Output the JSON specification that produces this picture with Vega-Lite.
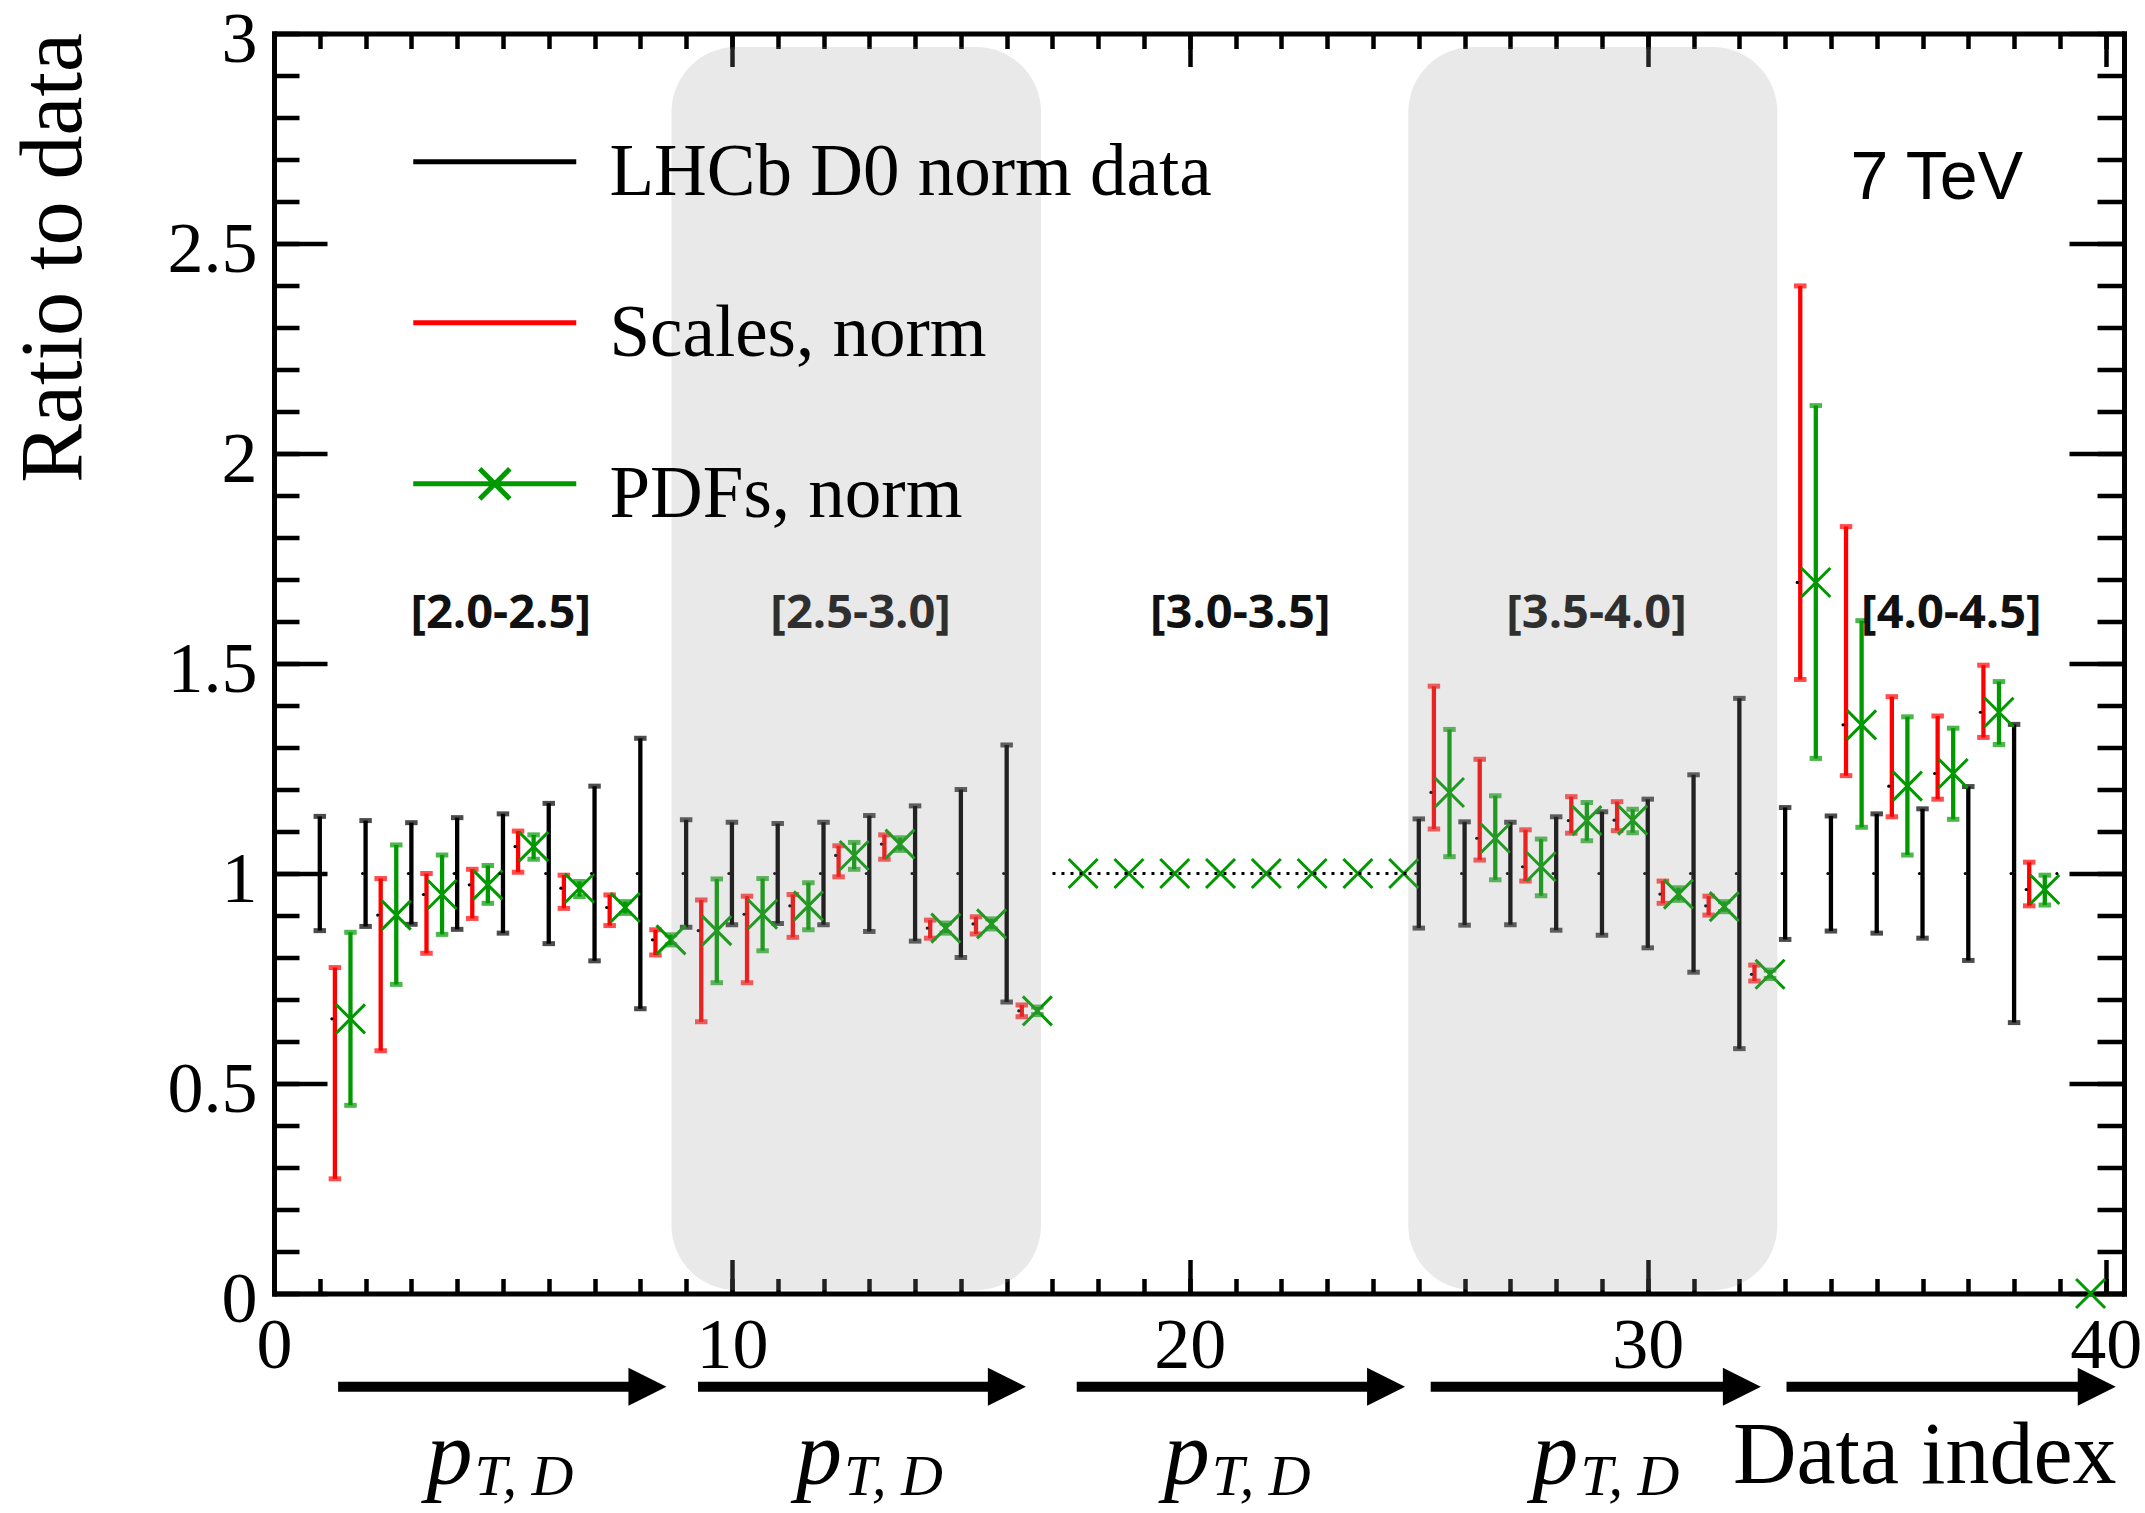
{
  "$schema": "https://vega.github.io/schema/vega-lite/v6.json",
  "width": 1850,
  "height": 1260,
  "autosize": {"type": "none"},
  "padding": {"left": 274, "top": 33.5, "right": 21, "bottom": 219.5},
  "background": "white",
  "config": {
    "view": {"stroke": null},
    "axis": {
      "zindex": 1, "grid": false, "labelFlush": false, "labelOverlap": false,
      "domain": false, "labels": false, "ticks": true, "title": null,
      "domainColor": "black", "domainWidth": 5, "domainCap": "square",
      "tickColor": "black", "tickWidth": 4.5,
      "labelFont": "Liberation Serif", "labelFontSize": 72, "labelColor": "black",
      "titleFont": "Liberation Serif", "titleFontSize": 88, "titleFontWeight": "normal", "titleColor": "black"
    }
  },
  "datasets": {
    "bars": [
      {"s": "LHCb D0 norm data", "x": 1, "v": 1, "lo": 0.864, "hi": 1.136},
      {"s": "LHCb D0 norm data", "x": 2, "v": 1, "lo": 0.874, "hi": 1.126},
      {"s": "LHCb D0 norm data", "x": 3, "v": 1, "lo": 0.879, "hi": 1.121},
      {"s": "LHCb D0 norm data", "x": 4, "v": 1, "lo": 0.867, "hi": 1.133},
      {"s": "LHCb D0 norm data", "x": 5, "v": 1, "lo": 0.858, "hi": 1.142},
      {"s": "LHCb D0 norm data", "x": 6, "v": 1, "lo": 0.833, "hi": 1.167},
      {"s": "LHCb D0 norm data", "x": 7, "v": 1, "lo": 0.792, "hi": 1.208},
      {"s": "LHCb D0 norm data", "x": 8, "v": 1, "lo": 0.678, "hi": 1.322},
      {"s": "LHCb D0 norm data", "x": 9, "v": 1, "lo": 0.872, "hi": 1.128},
      {"s": "LHCb D0 norm data", "x": 10, "v": 1, "lo": 0.878, "hi": 1.122},
      {"s": "LHCb D0 norm data", "x": 11, "v": 1, "lo": 0.881, "hi": 1.119},
      {"s": "LHCb D0 norm data", "x": 12, "v": 1, "lo": 0.878, "hi": 1.122},
      {"s": "LHCb D0 norm data", "x": 13, "v": 1, "lo": 0.862, "hi": 1.138},
      {"s": "LHCb D0 norm data", "x": 14, "v": 1, "lo": 0.839, "hi": 1.161},
      {"s": "LHCb D0 norm data", "x": 15, "v": 1, "lo": 0.800, "hi": 1.200},
      {"s": "LHCb D0 norm data", "x": 16, "v": 1, "lo": 0.694, "hi": 1.306},
      {"s": "LHCb D0 norm data", "x": 25, "v": 1, "lo": 0.870, "hi": 1.130},
      {"s": "LHCb D0 norm data", "x": 26, "v": 1, "lo": 0.877, "hi": 1.123},
      {"s": "LHCb D0 norm data", "x": 27, "v": 1, "lo": 0.878, "hi": 1.122},
      {"s": "LHCb D0 norm data", "x": 28, "v": 1, "lo": 0.865, "hi": 1.135},
      {"s": "LHCb D0 norm data", "x": 29, "v": 1, "lo": 0.853, "hi": 1.147},
      {"s": "LHCb D0 norm data", "x": 30, "v": 1, "lo": 0.823, "hi": 1.177},
      {"s": "LHCb D0 norm data", "x": 31, "v": 1, "lo": 0.765, "hi": 1.235},
      {"s": "LHCb D0 norm data", "x": 32, "v": 1, "lo": 0.583, "hi": 1.417},
      {"s": "LHCb D0 norm data", "x": 33, "v": 1, "lo": 0.843, "hi": 1.157},
      {"s": "LHCb D0 norm data", "x": 34, "v": 1, "lo": 0.863, "hi": 1.137},
      {"s": "LHCb D0 norm data", "x": 35, "v": 1, "lo": 0.858, "hi": 1.142},
      {"s": "LHCb D0 norm data", "x": 36, "v": 1, "lo": 0.846, "hi": 1.154},
      {"s": "LHCb D0 norm data", "x": 37, "v": 1, "lo": 0.793, "hi": 1.207},
      {"s": "LHCb D0 norm data", "x": 38, "v": 1, "lo": 0.645, "hi": 1.355},
      {"s": "LHCb D0 norm data", "x": 39, "v": 1, "lo": null, "hi": null},
      {"s": "Scales, norm", "x": 1.33, "v": 0.654, "lo": 0.273, "hi": 0.776},
      {"s": "Scales, norm", "x": 2.33, "v": 0.901, "lo": 0.578, "hi": 0.988},
      {"s": "Scales, norm", "x": 3.33, "v": 0.950, "lo": 0.810, "hi": 1.000},
      {"s": "Scales, norm", "x": 4.33, "v": 0.973, "lo": 0.893, "hi": 1.010},
      {"s": "Scales, norm", "x": 5.33, "v": 1.064, "lo": 1.003, "hi": 1.101},
      {"s": "Scales, norm", "x": 6.33, "v": 0.965, "lo": 0.917, "hi": 0.996},
      {"s": "Scales, norm", "x": 7.33, "v": 0.919, "lo": 0.876, "hi": 0.949},
      {"s": "Scales, norm", "x": 8.33, "v": 0.842, "lo": 0.806, "hi": 0.866},
      {"s": "Scales, norm", "x": 9.33, "v": 0.864, "lo": 0.647, "hi": 0.937},
      {"s": "Scales, norm", "x": 10.33, "v": 0.903, "lo": 0.740, "hi": 0.946},
      {"s": "Scales, norm", "x": 11.33, "v": 0.923, "lo": 0.848, "hi": 0.950},
      {"s": "Scales, norm", "x": 12.33, "v": 1.043, "lo": 0.992, "hi": 1.066},
      {"s": "Scales, norm", "x": 13.33, "v": 1.070, "lo": 1.034, "hi": 1.092},
      {"s": "Scales, norm", "x": 14.33, "v": 0.870, "lo": 0.846, "hi": 0.889},
      {"s": "Scales, norm", "x": 15.33, "v": 0.880, "lo": 0.856, "hi": 0.897},
      {"s": "Scales, norm", "x": 16.33, "v": 0.673, "lo": 0.659, "hi": 0.687},
      {"s": "Scales, norm", "x": 25.33, "v": 1.193, "lo": 1.106, "hi": 1.446},
      {"s": "Scales, norm", "x": 26.33, "v": 1.084, "lo": 1.032, "hi": 1.272},
      {"s": "Scales, norm", "x": 27.33, "v": 1.016, "lo": 0.982, "hi": 1.104},
      {"s": "Scales, norm", "x": 28.33, "v": 1.126, "lo": 1.096, "hi": 1.183},
      {"s": "Scales, norm", "x": 29.33, "v": 1.127, "lo": 1.102, "hi": 1.171},
      {"s": "Scales, norm", "x": 30.33, "v": 0.951, "lo": 0.929, "hi": 0.982},
      {"s": "Scales, norm", "x": 31.33, "v": 0.923, "lo": 0.901, "hi": 0.946},
      {"s": "Scales, norm", "x": 32.33, "v": 0.760, "lo": 0.744, "hi": 0.782},
      {"s": "Scales, norm", "x": 33.33, "v": 1.693, "lo": 1.462, "hi": 2.399},
      {"s": "Scales, norm", "x": 34.33, "v": 1.354, "lo": 1.233, "hi": 1.826},
      {"s": "Scales, norm", "x": 35.33, "v": 1.208, "lo": 1.135, "hi": 1.421},
      {"s": "Scales, norm", "x": 36.33, "v": 1.238, "lo": 1.177, "hi": 1.375},
      {"s": "Scales, norm", "x": 37.33, "v": 1.384, "lo": 1.324, "hi": 1.496},
      {"s": "Scales, norm", "x": 38.33, "v": 0.962, "lo": 0.923, "hi": 1.027},
      {"s": "PDFs, norm", "x": 1.67, "v": 0.654, "lo": 0.448, "hi": 0.860},
      {"s": "PDFs, norm", "x": 2.67, "v": 0.901, "lo": 0.736, "hi": 1.068},
      {"s": "PDFs, norm", "x": 3.67, "v": 0.950, "lo": 0.855, "hi": 1.044},
      {"s": "PDFs, norm", "x": 4.67, "v": 0.973, "lo": 0.929, "hi": 1.019},
      {"s": "PDFs, norm", "x": 5.67, "v": 1.064, "lo": 1.034, "hi": 1.092},
      {"s": "PDFs, norm", "x": 6.67, "v": 0.965, "lo": 0.945, "hi": 0.981},
      {"s": "PDFs, norm", "x": 7.67, "v": 0.919, "lo": 0.905, "hi": 0.933},
      {"s": "PDFs, norm", "x": 8.67, "v": 0.842, "lo": 0.830, "hi": 0.854},
      {"s": "PDFs, norm", "x": 9.67, "v": 0.864, "lo": 0.740, "hi": 0.987},
      {"s": "PDFs, norm", "x": 10.67, "v": 0.903, "lo": 0.816, "hi": 0.988},
      {"s": "PDFs, norm", "x": 11.67, "v": 0.923, "lo": 0.866, "hi": 0.978},
      {"s": "PDFs, norm", "x": 12.67, "v": 1.043, "lo": 1.010, "hi": 1.074},
      {"s": "PDFs, norm", "x": 13.67, "v": 1.070, "lo": 1.055, "hi": 1.085},
      {"s": "PDFs, norm", "x": 14.67, "v": 0.870, "lo": 0.858, "hi": 0.882},
      {"s": "PDFs, norm", "x": 15.67, "v": 0.880, "lo": 0.868, "hi": 0.892},
      {"s": "PDFs, norm", "x": 16.67, "v": 0.673, "lo": 0.664, "hi": 0.682},
      {"s": "PDFs, norm", "x": 17.67, "v": 1, "lo": null, "hi": null},
      {"s": "PDFs, norm", "x": 18.67, "v": 1, "lo": null, "hi": null},
      {"s": "PDFs, norm", "x": 19.67, "v": 1, "lo": null, "hi": null},
      {"s": "PDFs, norm", "x": 20.67, "v": 1, "lo": null, "hi": null},
      {"s": "PDFs, norm", "x": 21.67, "v": 1, "lo": null, "hi": null},
      {"s": "PDFs, norm", "x": 22.67, "v": 1, "lo": null, "hi": null},
      {"s": "PDFs, norm", "x": 23.67, "v": 1, "lo": null, "hi": null},
      {"s": "PDFs, norm", "x": 24.67, "v": 1, "lo": null, "hi": null},
      {"s": "PDFs, norm", "x": 25.67, "v": 1.193, "lo": 1.040, "hi": 1.343},
      {"s": "PDFs, norm", "x": 26.67, "v": 1.084, "lo": 0.985, "hi": 1.185},
      {"s": "PDFs, norm", "x": 27.67, "v": 1.016, "lo": 0.947, "hi": 1.082},
      {"s": "PDFs, norm", "x": 28.67, "v": 1.126, "lo": 1.078, "hi": 1.169},
      {"s": "PDFs, norm", "x": 29.67, "v": 1.127, "lo": 1.097, "hi": 1.153},
      {"s": "PDFs, norm", "x": 30.67, "v": 0.951, "lo": 0.936, "hi": 0.966},
      {"s": "PDFs, norm", "x": 31.67, "v": 0.921, "lo": 0.909, "hi": 0.933},
      {"s": "PDFs, norm", "x": 32.67, "v": 0.760, "lo": 0.750, "hi": 0.770},
      {"s": "PDFs, norm", "x": 33.67, "v": 1.693, "lo": 1.274, "hi": 2.114},
      {"s": "PDFs, norm", "x": 34.67, "v": 1.354, "lo": 1.110, "hi": 1.602},
      {"s": "PDFs, norm", "x": 35.67, "v": 1.208, "lo": 1.044, "hi": 1.373},
      {"s": "PDFs, norm", "x": 36.67, "v": 1.238, "lo": 1.129, "hi": 1.346},
      {"s": "PDFs, norm", "x": 37.67, "v": 1.384, "lo": 1.307, "hi": 1.457},
      {"s": "PDFs, norm", "x": 38.67, "v": 0.962, "lo": 0.925, "hi": 0.996},
      {"s": "PDFs, norm", "x": 39.67, "v": 0, "lo": null, "hi": null}
    ],
    "dotted": [{"x1": 17.0, "x2": 24.85, "y": 1}],
    "bins": [
      {"label": "[2.0-2.5]", "x": 4.95, "y": 1.585},
      {"label": "[2.5-3.0]", "x": 12.81, "y": 1.585},
      {"label": "[3.0-3.5]", "x": 21.1, "y": 1.585},
      {"label": "[3.5-4.0]", "x": 28.88, "y": 1.585},
      {"label": "[4.0-4.5]", "x": 36.63, "y": 1.585}
    ],
    "energy": [{"label": "7 TeV", "x": 36.31, "y": 2.606}],
    "blocks": [
      {"x1": 8.68, "x2": 16.75, "y1": 0.008, "y2": 2.968},
      {"x1": 24.77, "x2": 32.83, "y1": 0.008, "y2": 2.968}
    ],
    "arrows": [
      {"x1": 1.40, "xe": 8.15, "xt": 8.57, "y": -0.222},
      {"x1": 9.26, "xe": 16.0, "xt": 16.42, "y": -0.222},
      {"x1": 17.53, "xe": 24.28, "xt": 24.70, "y": -0.222},
      {"x1": 25.26, "xe": 32.05, "xt": 32.47, "y": -0.222},
      {"x1": 33.03, "xe": 39.80, "xt": 40.22, "y": -0.222}
    ],
    "kin": [
      {"p": "p", "sub": "T, D", "x": 3.33, "xs": 4.38, "y": -0.4536, "ys": -0.48},
      {"p": "p", "sub": "T, D", "x": 11.4, "xs": 12.45, "y": -0.4536, "ys": -0.48},
      {"p": "p", "sub": "T, D", "x": 19.43, "xs": 20.48, "y": -0.4536, "ys": -0.48},
      {"p": "p", "sub": "T, D", "x": 27.48, "xs": 28.53, "y": -0.4536, "ys": -0.48}
    ]
  },
  "layer": [
    {
      "data": {"name": "bars"},
      "transform": [{"filter": {"field": "s", "equal": "LHCb D0 norm data"}}],
      "mark": {"type": "rule", "strokeWidth": 4.3, "color": "#000000"},
      "encoding": {
        "x": {"field": "x", "type": "quantitative", "scale": {"domain": [0, 40.4], "nice": false, "zero": false},
          "axis": {"orient": "bottom", "values": [0, 10, 20, 30, 40], "format": "d", "ticks": false, "labels": true, "domain": true,
            "labelPadding": 17, "labelBaseline": "top", "labelAlign": "center",
            "title": "Data index", "titleX": 1842, "titleY": 188.5, "titleAlign": "right", "titleBaseline": "alphabetic", "titleAngle": 0}},
        "y": {"field": "lo", "type": "quantitative", "scale": {"domain": [0, 3], "nice": false, "zero": false},
          "axis": {"orient": "left", "values": [0, 0.5, 1, 1.5, 2, 2.5, 3], "format": "~g", "ticks": false, "labels": true, "domain": true,
            "labelPadding": 17, "labelBaseline": "middle", "labelAlign": "right", "labelOffset": 6,
            "title": "Ratio to data", "titleX": -194, "titleY": -1, "titleAngle": -90, "titleAlign": "right", "titleBaseline": "alphabetic"}},
        "y2": {"field": "hi"}
      }
    },
    {
      "data": {"name": "bars"},
      "transform": [{"filter": {"field": "s", "equal": "LHCb D0 norm data"}}, {"fold": ["lo", "hi"], "as": ["end", "yv"]}],
      "mark": {"type": "tick", "orient": "horizontal", "size": 12.5, "thickness": 5, "color": "#000000"},
      "encoding": {
        "x": {"field": "x", "type": "quantitative", "scale": {"domain": [0, 40.4], "nice": false, "zero": false},
          "axis": {"orient": "bottom", "values": [0, 10, 20, 30, 40], "tickSize": -34}},
        "y": {"field": "yv", "type": "quantitative", "scale": {"domain": [0, 3], "nice": false, "zero": false},
          "axis": {"orient": "left", "values": [0, 0.5, 1, 1.5, 2, 2.5, 3], "tickSize": -53}}
      }
    },
    {
      "data": {"name": "bars"},
      "transform": [{"filter": {"field": "s", "equal": "Scales, norm"}}],
      "mark": {"type": "rule", "strokeWidth": 4.3, "color": "#ff0000"},
      "encoding": {
        "x": {"field": "x", "type": "quantitative", "scale": {"domain": [0, 40.4], "nice": false, "zero": false},
          "axis": {"orient": "bottom", "values": [0,1,2,3,4,5,6,7,8,9,10,11,12,13,14,15,16,17,18,19,20,21,22,23,24,25,26,27,28,29,30,31,32,33,34,35,36,37,38,39,40], "tickSize": -15}},
        "y": {"field": "lo", "type": "quantitative", "scale": {"domain": [0, 3], "nice": false, "zero": false},
          "axis": {"orient": "left", "values": [0,0.1,0.2,0.3,0.4,0.5,0.6,0.7,0.8,0.9,1,1.1,1.2,1.3,1.4,1.5,1.6,1.7,1.8,1.9,2,2.1,2.2,2.3,2.4,2.5,2.6,2.7,2.8,2.9,3], "tickSize": -25}},
        "y2": {"field": "hi"}
      }
    },
    {
      "data": {"name": "bars"},
      "transform": [{"filter": {"field": "s", "equal": "Scales, norm"}}, {"fold": ["lo", "hi"], "as": ["end", "yv"]}],
      "mark": {"type": "tick", "orient": "horizontal", "size": 12.5, "thickness": 5, "color": "#ff0000"},
      "encoding": {
        "x": {"field": "x", "type": "quantitative", "scale": {"domain": [0, 40.4], "nice": false, "zero": false},
          "axis": {"orient": "top", "values": [0, 10, 20, 30, 40], "tickSize": -33, "domain": true}},
        "y": {"field": "yv", "type": "quantitative", "scale": {"domain": [0, 3], "nice": false, "zero": false},
          "axis": {"orient": "right", "values": [0, 0.5, 1, 1.5, 2, 2.5, 3], "tickSize": -55, "domain": true}}
      }
    },
    {
      "data": {"name": "bars"},
      "transform": [{"filter": {"field": "s", "equal": "PDFs, norm"}}],
      "mark": {"type": "rule", "strokeWidth": 4.3, "color": "#009900"},
      "encoding": {
        "x": {"field": "x", "type": "quantitative", "scale": {"domain": [0, 40.4], "nice": false, "zero": false},
          "axis": {"orient": "top", "values": [0,1,2,3,4,5,6,7,8,9,10,11,12,13,14,15,16,17,18,19,20,21,22,23,24,25,26,27,28,29,30,31,32,33,34,35,36,37,38,39,40], "tickSize": -15}},
        "y": {"field": "lo", "type": "quantitative", "scale": {"domain": [0, 3], "nice": false, "zero": false},
          "axis": {"orient": "right", "values": [0,0.1,0.2,0.3,0.4,0.5,0.6,0.7,0.8,0.9,1,1.1,1.2,1.3,1.4,1.5,1.6,1.7,1.8,1.9,2,2.1,2.2,2.3,2.4,2.5,2.6,2.7,2.8,2.9,3], "tickSize": -27}},
        "y2": {"field": "hi"}
      }
    },
    {
      "data": {"name": "bars"},
      "transform": [{"filter": {"field": "s", "equal": "PDFs, norm"}}, {"fold": ["lo", "hi"], "as": ["end", "yv"]}],
      "mark": {"type": "tick", "orient": "horizontal", "size": 12.5, "thickness": 5, "color": "#009900"},
      "encoding": {
        "x": {"field": "x", "type": "quantitative", "scale": {"domain": [0, 40.4], "nice": false, "zero": false}, "axis": null},
        "y": {"field": "yv", "type": "quantitative", "scale": {"domain": [0, 3], "nice": false, "zero": false}, "axis": null}
      }
    },
    {
      "data": {"name": "bars"},
      "transform": [{"filter": {"field": "s", "equal": "PDFs, norm"}}],
      "mark": {"type": "point", "shape": "M-1,-1L1,1M-1,1L1,-1", "size": 841, "filled": false, "strokeWidth": 3, "color": "#009900", "opacity": 1},
      "encoding": {
        "x": {"field": "x", "type": "quantitative", "scale": {"domain": [0, 40.4], "nice": false, "zero": false}, "axis": null},
        "y": {"field": "v", "type": "quantitative", "scale": {"domain": [0, 3], "nice": false, "zero": false}, "axis": null}
      }
    },
    {
      "data": {"name": "bars"},
      "transform": [{"filter": {"field": "s", "oneOf": ["LHCb D0 norm data", "Scales, norm"]}}],
      "mark": {"type": "point", "shape": "circle", "size": 10, "filled": true, "color": "#000000", "opacity": 1, "xOffset": -3},
      "encoding": {
        "x": {"field": "x", "type": "quantitative", "scale": {"domain": [0, 40.4], "nice": false, "zero": false}, "axis": null},
        "y": {"field": "v", "type": "quantitative", "scale": {"domain": [0, 3], "nice": false, "zero": false}, "axis": null}
      }
    },
    {
      "data": {"name": "dotted"},
      "mark": {"type": "rule", "strokeWidth": 3, "strokeDash": [3, 6], "color": "#000000"},
      "encoding": {
        "x": {"field": "x1", "type": "quantitative", "scale": {"domain": [0, 40.4], "nice": false, "zero": false}, "axis": null},
        "x2": {"field": "x2"},
        "y": {"field": "y", "type": "quantitative", "scale": {"domain": [0, 3], "nice": false, "zero": false}, "axis": null}
      }
    },
    {
      "data": {"name": "bins"},
      "mark": {"type": "text", "font": "Open Sans", "fontWeight": "bold", "fontSize": 47, "align": "center", "baseline": "alphabetic", "color": "#111111"},
      "encoding": {
        "x": {"field": "x", "type": "quantitative", "scale": {"domain": [0, 40.4], "nice": false, "zero": false}, "axis": null},
        "y": {"field": "y", "type": "quantitative", "scale": {"domain": [0, 3], "nice": false, "zero": false}, "axis": null},
        "text": {"field": "label"}
      }
    },
    {
      "data": {"name": "energy"},
      "mark": {"type": "text", "font": "Liberation Sans", "fontSize": 68, "align": "center", "baseline": "alphabetic", "color": "#000000"},
      "encoding": {
        "x": {"field": "x", "type": "quantitative", "scale": {"domain": [0, 40.4], "nice": false, "zero": false}, "axis": null},
        "y": {"field": "y", "type": "quantitative", "scale": {"domain": [0, 3], "nice": false, "zero": false}, "axis": null},
        "text": {"field": "label"}
      }
    },
    {
      "data": {"name": "blocks"},
      "mark": {"type": "rect", "cornerRadius": 65, "color": "#9b9b9b", "opacity": 0.22},
      "encoding": {
        "x": {"field": "x1", "type": "quantitative", "scale": {"domain": [0, 40.4], "nice": false, "zero": false}, "axis": null},
        "x2": {"field": "x2"},
        "y": {"field": "y1", "type": "quantitative", "scale": {"domain": [0, 3], "nice": false, "zero": false}, "axis": null},
        "y2": {"field": "y2"}
      }
    },
    {
      "data": {"name": "bars"},
      "mark": {"type": "point", "filled": false, "opacity": 0},
      "encoding": {
        "x": {"field": "x", "type": "quantitative", "scale": {"domain": [0, 40.4], "nice": false, "zero": false}, "axis": null},
        "y": {"field": "v", "type": "quantitative", "scale": {"domain": [0, 3], "nice": false, "zero": false}, "axis": null},
        "color": {"field": "s", "type": "nominal",
          "scale": {"domain": ["LHCb D0 norm data", "Scales, norm", "PDFs, norm"], "range": ["#000000", "#ff0000", "#009900"]},
          "legend": {"orient": "none", "legendX": 177.25, "legendY": 96.25, "title": null, "padding": 0, "offset": 0,
            "symbolSize": 6642, "symbolStrokeWidth": 5, "symbolOpacity": 1,
            "labelFont": "Liberation Serif", "labelFontSize": 73, "labelColor": "#000000", "labelOffset": 71.25, "labelLimit": 1000,
            "rowPadding": 80}},
        "shape": {"field": "s", "type": "nominal",
          "scale": {"domain": ["LHCb D0 norm data", "Scales, norm", "PDFs, norm"],
            "range": ["M-2,-0.28H2", "M-2,-0.28H2", "M-2,-0.28H2M-0.37,-0.65L0.37,0.09M-0.37,0.09L0.37,-0.65"]},
          "legend": {"orient": "none", "legendX": 177.25, "legendY": 96.25, "title": null, "padding": 0, "offset": 0,
            "symbolSize": 6642, "symbolStrokeWidth": 5, "symbolOpacity": 1,
            "labelFont": "Liberation Serif", "labelFontSize": 73, "labelColor": "#000000", "labelOffset": 71.25, "labelLimit": 1000,
            "rowPadding": 80}}
      }
    },
    {
      "data": {"name": "arrows"},
      "mark": {"type": "rule", "strokeWidth": 10, "color": "#000000"},
      "encoding": {
        "x": {"field": "x1", "type": "quantitative", "scale": {"domain": [0, 40.4], "nice": false, "zero": false}, "axis": null},
        "x2": {"field": "xe"},
        "y": {"field": "y", "type": "quantitative", "scale": {"domain": [0, 3], "nice": false, "zero": false}, "axis": null}
      }
    },
    {
      "data": {"name": "arrows"},
      "mark": {"type": "point", "shape": "M0,0L-1,-0.5L-1,0.5Z", "size": 5776, "filled": true, "color": "#000000", "opacity": 1, "strokeWidth": 0},
      "encoding": {
        "x": {"field": "xt", "type": "quantitative", "scale": {"domain": [0, 40.4], "nice": false, "zero": false}, "axis": null},
        "y": {"field": "y", "type": "quantitative", "scale": {"domain": [0, 3], "nice": false, "zero": false}, "axis": null}
      }
    },
    {
      "data": {"name": "kin"},
      "mark": {"type": "text", "font": "Liberation Serif", "fontStyle": "italic", "fontSize": 92, "align": "left", "baseline": "alphabetic", "color": "#000000"},
      "encoding": {
        "x": {"field": "x", "type": "quantitative", "scale": {"domain": [0, 40.4], "nice": false, "zero": false}, "axis": null},
        "y": {"field": "y", "type": "quantitative", "scale": {"domain": [0, 3], "nice": false, "zero": false}, "axis": null},
        "text": {"field": "p"}
      }
    },
    {
      "data": {"name": "kin"},
      "mark": {"type": "text", "font": "Liberation Serif", "fontStyle": "italic", "fontSize": 58, "align": "left", "baseline": "alphabetic", "color": "#000000"},
      "encoding": {
        "x": {"field": "xs", "type": "quantitative", "scale": {"domain": [0, 40.4], "nice": false, "zero": false}, "axis": null},
        "y": {"field": "ys", "type": "quantitative", "scale": {"domain": [0, 3], "nice": false, "zero": false}, "axis": null},
        "text": {"field": "sub"}
      }
    }
  ],
  "resolve": {"axis": {"x": "independent", "y": "independent"}}
}
